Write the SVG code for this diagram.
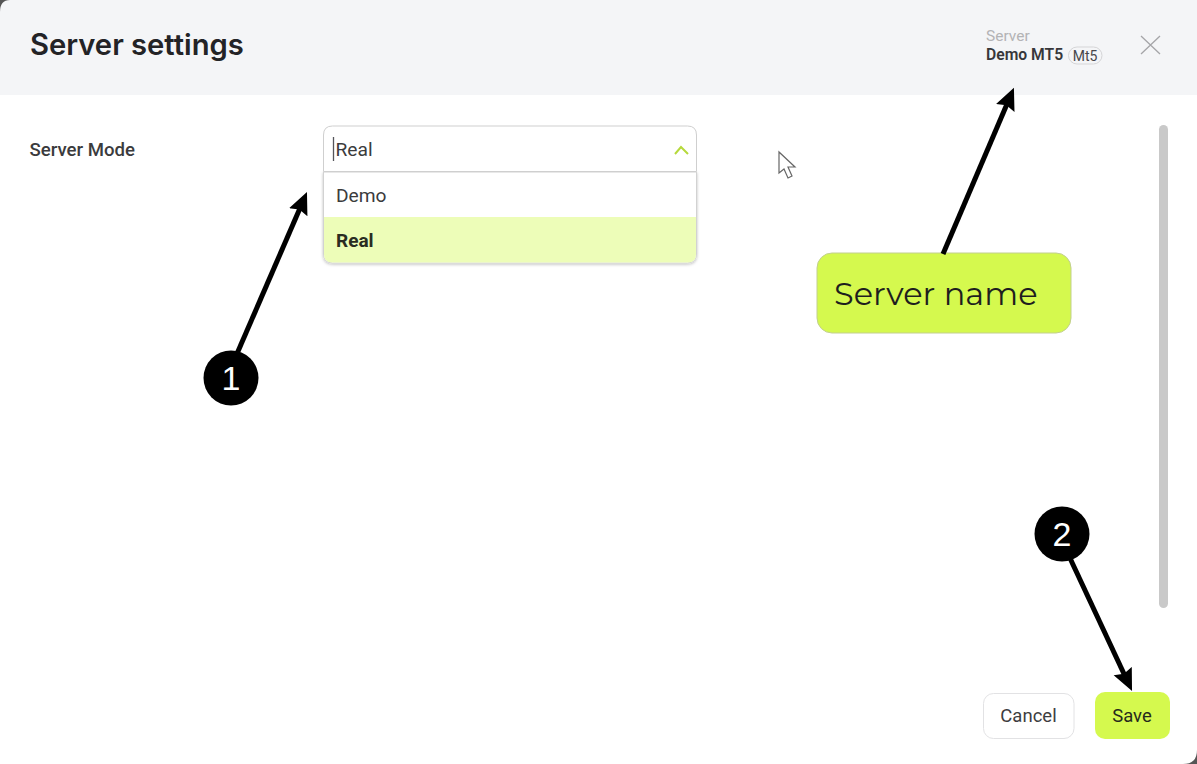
<svg xmlns="http://www.w3.org/2000/svg" width="1197" height="764" viewBox="0 0 1197 764">
<style>
.r{font-family:Roboto,"Liberation Sans",sans-serif}
.l{font-size:19.200px;fill:#3b3b3d}
.arrow{stroke:#000;stroke-width:5;fill:none}
.badge{fill:#000}
.num{font-family:"Liberation Sans",Arial,sans-serif;font-size:34px;fill:#fff;text-anchor:middle}
</style>
<defs>
<marker id="ah" markerUnits="userSpaceOnUse" markerWidth="26" markerHeight="24" refX="12" refY="10" orient="auto"><path d="M0 0L22 10L0 20L3 10Z" fill="#000"/></marker>
<filter id="sh" x="-5%" y="-10%" width="110%" height="125%"><feDropShadow dx="0" dy="1" stdDeviation="1.500" flood-color="#000" flood-opacity=".25"/></filter>
</defs>
<rect width="1197" height="764" fill="#fff"/>
<path id="header" d="M0 0H1197V95H0Z" fill="#f4f5f7"/>
<path d="M0 12Q0 0 10 0H0Z" fill="#555"/>
<path d="M1197 750Q1197 764 1183 764H1197Z" fill="#555"/>
<text x="30" y="55" font-family="Inter,'Noto Sans',sans-serif" font-size="29.200" font-weight="600" fill="#232326">Server settings</text>
<g id="server-info">
<text x="986" y="40.500" class="r" font-size="15.500" fill="#b3b3b5">Server</text>
<text x="986" y="60" class="r" font-size="15.700" font-weight="600" fill="#37373a">Demo MT5</text>
<rect x="1068.500" y="47" width="33.500" height="17" rx="8.500" fill="#f4f5f7" stroke="#d5d5d7"/>
<text x="1085" y="60.500" class="r" font-size="14" fill="#47474a" text-anchor="middle">Mt5</text>
</g>
<path id="close" d="M1141 36L1160 54M1160 36L1141 54" stroke="#a5a5a8" stroke-width="1.300" fill="none"/>
<text x="29.500" y="156" class="r" font-size="18.600" font-weight="500" fill="#3b3b3d">Server Mode</text>
<g id="server-mode-select">
<path d="M323.500 172H696.500V254Q696.500 263 687.500 263H332.500Q323.500 263 323.500 254Z" fill="#fff" stroke="#d2d2d2" filter="url(#sh)"/>
<path d="M323.500 171.500H696.500V135Q696.500 126 687.500 126H332.500Q323.500 126 323.500 135Z" fill="#fff" stroke="#cfcfcf"/>
<path d="M333.500 137V161" stroke="#55555a" stroke-width="1.300"/>
<text x="335.500" y="156" class="r l">Real</text>
<path d="M675 154L681 147L688 154" stroke="#b6d93c" stroke-width="2" fill="none"/>
<text x="336" y="202" class="r l">Demo</text>
<path d="M324 217H696V254Q696 262.500 688 262.500H332Q324 262.500 324 254Z" fill="#edfdb8"/>
<text x="336" y="247" class="r" font-size="19" font-weight="700" fill="#2a2d22">Real</text>
</g>
<rect id="scrollbar" x="1159" y="125" width="9" height="483" rx="4.500" fill="#c9c9c9"/>
<path id="cursor" d="M779 152V173L784 169L788 178L792 176L788 167L795 167Z" fill="#fff" stroke="#666" stroke-width="1.200"/>
<g id="cancel"><rect x="983.500" y="693.500" width="90.500" height="45" rx="10" fill="#fff" stroke="#e2e2e4"/>
<text x="1028.500" y="722" class="r" font-size="18.500" fill="#3d3d40" text-anchor="middle">Cancel</text></g>
<g id="save"><rect x="1095" y="692" width="75" height="47" rx="10" fill="#d5f94e"/>
<text x="1132" y="722" class="r" font-size="18.500" fill="#26291c" text-anchor="middle">Save</text></g>
<g id="callout"><rect x="817" y="253" width="254" height="80" rx="15" fill="#d5f94e" stroke="#c2cf8f"/>
<text x="834" y="305" font-family="Montserrat,'Noto Sans',sans-serif" font-size="32" fill="#1e1e1e">Server name</text></g>
<g id="connectors">
<path class="arrow" d="M236 356L303 201.200" marker-end="url(#ah)"/>
<path class="arrow" d="M943 254L1010 97" marker-end="url(#ah)"/>
<path class="arrow" d="M1069 556L1127.800 682" marker-end="url(#ah)"/>
</g>
<g id="badge-1"><circle class="badge" cx="231" cy="378" r="27.500"/><text x="231" y="390" class="num">1</text></g>
<g id="badge-2"><circle class="badge" cx="1062" cy="534" r="27.500"/><text x="1062" y="546" class="num">2</text></g>
</svg>
